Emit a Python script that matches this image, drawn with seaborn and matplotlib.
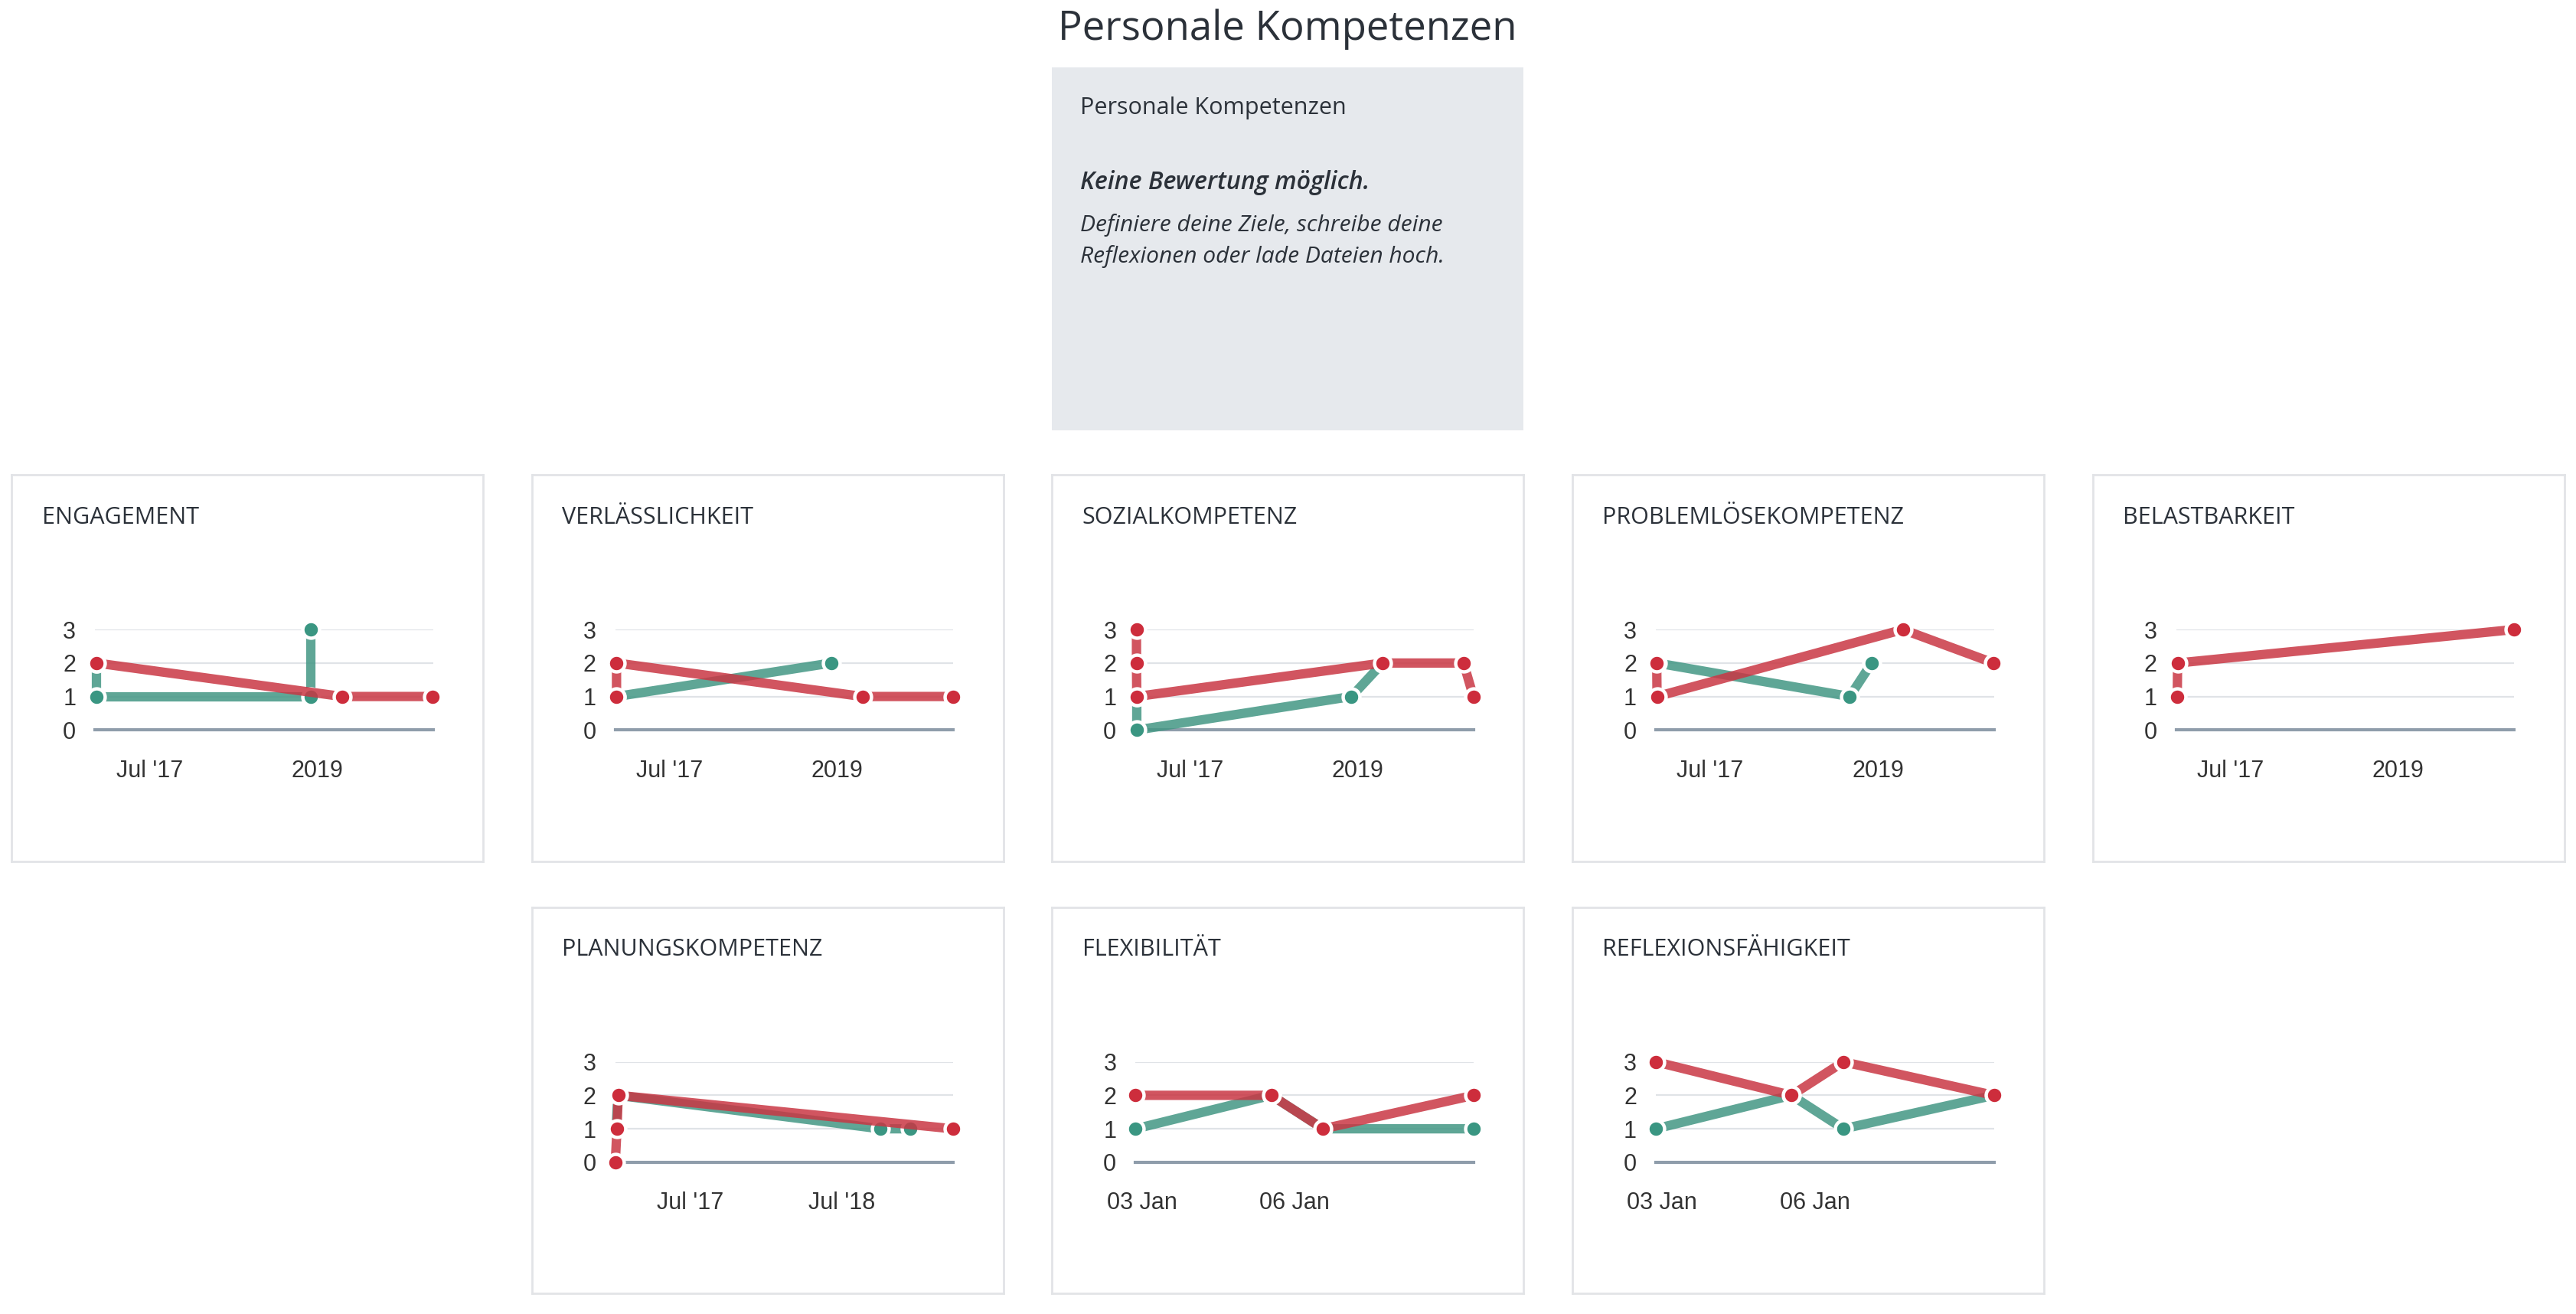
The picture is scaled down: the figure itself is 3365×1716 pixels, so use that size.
import matplotlib
matplotlib.use("Agg")
import matplotlib.pyplot as plt
import seaborn as sns
import pandas as pd
from matplotlib.patches import Rectangle

sns.set_theme(style="white")
plt.rcParams['font.family'] = ['Open Sans', 'DejaVu Sans']

# ---- data ----
titles = ["ENGAGEMENT", "VERLÄSSLICHKEIT", "SOZIALKOMPETENZ", "PROBLEMLÖSEKOMPETENZ",
          "BELASTBARKEIT", "PLANUNGSKOMPETENZ", "FLEXIBILITÄT", "REFLEXIONSFÄHIGKEIT"]

eng_green_x = ["2017-01-08", "2017-01-08", "2018-12-12", "2018-12-12"]
eng_green_y = [2, 1, 1, 3]
eng_red_x = ["2017-01-08", "2019-03-24", "2020-01-15"]
eng_red_y = [2, 1, 1]

ver_green_x = ["2017-01-08", "2018-12-12"]
ver_green_y = [1, 2]
ver_red_x = ["2017-01-08", "2017-01-08", "2019-03-24", "2020-01-15"]
ver_red_y = [1, 2, 1, 1]

soz_green_x = ["2017-01-08", "2017-01-08", "2018-12-12", "2019-03-24"]
soz_green_y = [1, 0, 1, 2]
soz_red_x = ["2017-01-07", "2017-01-07", "2017-01-08", "2019-03-24", "2019-12-14", "2020-01-15"]
soz_red_y = [3, 2, 1, 2, 2, 1]

pro_green_x = ["2017-01-08", "2018-10-01", "2018-12-12"]
pro_green_y = [2, 1, 2]
pro_red_x = ["2017-01-07", "2017-01-08", "2019-03-24", "2020-01-15"]
pro_red_y = [2, 1, 3, 2]

bel_green_x = []
bel_green_y = []
bel_red_x = ["2017-01-08", "2017-01-09", "2020-01-15"]
bel_red_y = [1, 2, 3]

pla_green_x = ["2017-01-05", "2017-01-09", "2018-10-01", "2018-12-12"]
pla_green_y = [1, 2, 1, 1]
pla_red_x = ["2017-01-03", "2017-01-07", "2017-01-10", "2019-03-24"]
pla_red_y = [0, 1, 2, 1]

jan_days = ["2020-01-02 21:00", "2020-01-05 13:00", "2020-01-06 13:30", "2020-01-09 12:30"]
fle_green_y = [1, 2, 1, 1]
fle_red_y = [2, 2, 1, 2]
ref_green_y = [1, 2, 1, 2]
ref_red_y = [3, 2, 3, 2]

# axis ranges and ticks
top_range = ["2017-01-04", "2020-01-16"]
top_ticks = ["2017-07-01", "2019-01-01"]
top_labels = ["Jul '17", "2019"]
pla_range = ["2017-01-03", "2019-03-25"]
pla_ticks = ["2017-07-01", "2018-07-01"]
pla_labels = ["Jul '17", "Jul '18"]
jan_range = ["2020-01-02 21:00", "2020-01-09 12:30"]
jan_ticks = ["2020-01-03", "2020-01-06"]
jan_labels = ["03 Jan", "06 Jan"]

y_ticks = [0, 1, 2, 3]

GREEN_LINE, GREEN_DOT = "#439784", "#3a9682"
RED_LINE, RED_DOT = "#c93744", "#cd2d3c"
TEXT = "#2b3139"

fig = plt.figure(figsize=(16.83, 8.58), dpi=200)
fig.patch.set_facecolor("white")

fig.text(0.4995, 0.978, "Personale Kompetenzen", ha="center", va="center",
         fontsize=19, color=TEXT)

# info box
col_x = [0.0045 + i * 0.2019 for i in range(5)]
card_w, card_h = 0.183, 0.294
bx, by, bh = col_x[2], 0.6723, 0.2765
fig.add_artist(Rectangle((bx, by), card_w, bh, transform=fig.transFigure,
                         facecolor="#e6e9ed", edgecolor="none", zorder=0))
tx = bx + 0.059 * card_w
fig.text(tx, by + bh * (1 - 0.113), "Personale Kompetenzen", va="center", fontsize=11, color=TEXT)
fig.text(tx, by + bh * (1 - 0.317), "Keine Bewertung möglich.", va="center", fontsize=11.6,
         color=TEXT, style="italic", weight="semibold")
fig.text(tx, by + bh * (1 - 0.434), "Definiere deine Ziele, schreibe deine", va="center",
         fontsize=10.8, color=TEXT, style="italic")
fig.text(tx, by + bh * (1 - 0.520), "Reflexionen oder lade Dateien hoch.", va="center",
         fontsize=10.8, color=TEXT, style="italic")


def draw_series(ax, xs, ys, line_c, dot_c, z):
    if len(xs) == 0:
        return
    df = pd.DataFrame({"date": pd.to_datetime(xs), "value": ys})
    sns.lineplot(data=df, x="date", y="value", ax=ax, estimator=None, sort=False,
                 color=line_c, alpha=0.85, lw=4.4, solid_capstyle="round",
                 solid_joinstyle="round", zorder=z)
    sns.scatterplot(data=df, x="date", y="value", ax=ax, color=dot_c, s=62,
                    edgecolor="white", linewidth=1.6, zorder=z + 1)


def draw_card(x, y, title, green, red, xr, ticks, labels):
    card = fig.add_axes([x, y, card_w, card_h])
    card.set_xticks([])
    card.set_yticks([])
    card.set_facecolor("white")
    for s in card.spines.values():
        s.set_color("#e2e4e7")
        s.set_linewidth(1.0)
    fig.text(x + 0.064 * card_w, y + card_h * (1 - 0.11), title, va="center",
             fontsize=11, color=TEXT)

    ax = fig.add_axes([x + 0.177 * card_w, y + 0.34 * card_h, 0.717 * card_w, 0.26 * card_h])
    ax.patch.set_alpha(0)
    draw_series(ax, green[0], green[1], GREEN_LINE, GREEN_DOT, 3)
    draw_series(ax, red[0], red[1], RED_LINE, RED_DOT, 5)
    for art in ax.lines + ax.collections:
        art.set_clip_on(False)

    ax.set_ylim(0, 3)
    ax.set_xlim(pd.Timestamp(xr[0]), pd.Timestamp(xr[1]))
    ax.set_yticks(y_ticks)
    ax.set_yticklabels([str(v) for v in y_ticks], fontfamily="Liberation Sans",
                       fontsize=11, color="#333333")
    ax.set_xticks([pd.Timestamp(t) for t in ticks])
    ax.set_xticklabels(labels, fontfamily="Liberation Sans", fontsize=11, color="#333333")
    ax.set_xlabel("")
    ax.set_ylabel("")
    ax.yaxis.grid(True, color="#e0e3e7", lw=0.8)
    ax.xaxis.grid(False)
    ax.set_axisbelow(True)
    for side in ["left", "top", "right"]:
        ax.spines[side].set_visible(False)
    ax.spines["bottom"].set_color("#8f9dab")
    ax.spines["bottom"].set_linewidth(1.5)
    ax.tick_params(axis="x", length=3.8, width=0.7, color="#8f9dab", pad=10)
    ax.tick_params(axis="y", length=0, pad=9)


top_y, bottom_y = 0.3445, 0.0155
draw_card(col_x[0], top_y, titles[0], (eng_green_x, eng_green_y), (eng_red_x, eng_red_y),
          top_range, top_ticks, top_labels)
draw_card(col_x[1], top_y, titles[1], (ver_green_x, ver_green_y), (ver_red_x, ver_red_y),
          top_range, top_ticks, top_labels)
draw_card(col_x[2], top_y, titles[2], (soz_green_x, soz_green_y), (soz_red_x, soz_red_y),
          top_range, top_ticks, top_labels)
draw_card(col_x[3], top_y, titles[3], (pro_green_x, pro_green_y), (pro_red_x, pro_red_y),
          top_range, top_ticks, top_labels)
draw_card(col_x[4], top_y, titles[4], (bel_green_x, bel_green_y), (bel_red_x, bel_red_y),
          top_range, top_ticks, top_labels)
draw_card(col_x[1], bottom_y, titles[5], (pla_green_x, pla_green_y), (pla_red_x, pla_red_y),
          pla_range, pla_ticks, pla_labels)
draw_card(col_x[2], bottom_y, titles[6], (jan_days, fle_green_y), (jan_days, fle_red_y),
          jan_range, jan_ticks, jan_labels)
draw_card(col_x[3], bottom_y, titles[7], (jan_days, ref_green_y), (jan_days, ref_red_y),
          jan_range, jan_ticks, jan_labels)

fig.savefig("out.png", dpi=200, facecolor="white")
